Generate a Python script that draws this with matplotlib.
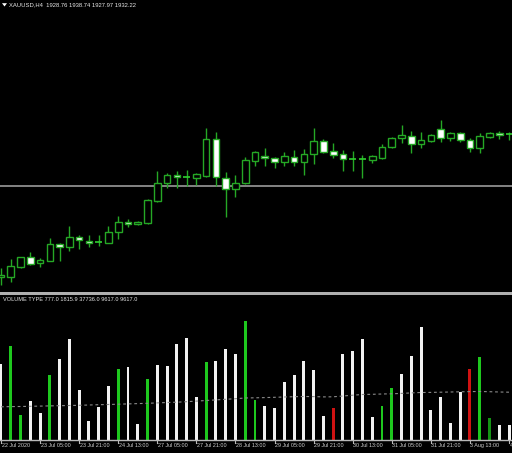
import matplotlib
matplotlib.use("Agg")
import matplotlib.pyplot as plt
from matplotlib.patches import Rectangle, Polygon

# ---------------- data ----------------
opens  = [1855.8, 1855.8, 1864.4, 1872.3, 1867.3, 1869.5, 1883.3, 1881.2, 1889.1, 1886.3,
          1884.9, 1884.6, 1893.3, 1902.0, 1900.1, 1900.9, 1919.9, 1934.5, 1941.5, 1940.0,
          1939.2, 1940.9, 1971.5, 1939.2, 1929.5, 1934.5, 1953.5, 1957.4, 1956.0, 1952.6,
          1956.3, 1952.6, 1958.9, 1969.8, 1961.6, 1958.9, 1955.1, 1954.7, 1954.1, 1956.0,
          1964.7, 1972.3, 1974.2, 1967.3, 1970.0, 1979.9, 1972.8, 1977.0, 1970.9, 1963.9,
          1973.6, 1976.5, 1975.6]
highs  = [1863.3, 1870.6, 1872.8, 1877.0, 1871.5, 1888.8, 1884.6, 1898.6, 1891.1, 1891.1,
          1891.1, 1898.6, 1907.0, 1904.3, 1903.1, 1921.3, 1944.8, 1942.9, 1945.1, 1945.7,
          1943.4, 1981.2, 1977.6, 1944.2, 1941.5, 1956.8, 1961.9, 1963.9, 1956.8, 1961.0,
          1962.5, 1963.3, 1980.7, 1971.5, 1968.1, 1962.5, 1961.6, 1958.3, 1958.3, 1967.3,
          1973.6, 1983.5, 1978.4, 1977.3, 1975.9, 1987.7, 1977.8, 1977.8, 1972.3, 1976.5,
          1977.8, 1978.4, 1977.3]
lows   = [1849.1, 1851.8, 1863.3, 1865.9, 1863.9, 1869.0, 1869.5, 1877.6, 1879.1, 1881.2,
          1882.1, 1884.3, 1887.5, 1897.5, 1899.2, 1900.3, 1919.0, 1930.8, 1930.8, 1932.2,
          1933.1, 1939.5, 1932.5, 1906.4, 1922.7, 1933.9, 1949.3, 1949.0, 1947.6, 1949.3,
          1949.3, 1941.5, 1950.7, 1959.7, 1955.5, 1944.8, 1944.8, 1939.2, 1951.8, 1954.7,
          1964.4, 1968.6, 1959.7, 1963.9, 1969.4, 1969.4, 1970.0, 1969.4, 1961.0, 1960.2,
          1972.8, 1971.5, 1970.9]
closes = [1857.5, 1865.0, 1872.3, 1866.7, 1869.8, 1883.3, 1881.2, 1889.1, 1886.9, 1884.1,
          1885.0, 1893.8, 1902.0, 1900.3, 1902.0, 1920.5, 1935.0, 1941.5, 1939.8, 1940.1,
          1942.1, 1971.5, 1940.0, 1929.5, 1935.0, 1954.1, 1961.0, 1955.5, 1952.6, 1957.4,
          1952.6, 1959.1, 1970.3, 1961.0, 1958.3, 1954.7, 1954.9, 1954.5, 1957.4, 1965.2,
          1972.3, 1974.8, 1967.3, 1970.6, 1975.1, 1972.8, 1977.0, 1970.9, 1963.9, 1974.2,
          1976.7, 1974.8, 1975.7]

volumes = [15200, 18800, 5000, 7800, 5400, 13000, 16200, 20200, 10000, 3800,
           6600, 10800, 14200, 14600, 3200, 12200, 15000, 14800, 19200, 20400,
           8600, 15600, 15800, 18200, 17200, 23800, 8000, 6800, 6400, 11600,
           13000, 15800, 14000, 4800, 6400, 17200, 17800, 20200, 4600, 6800,
           10400, 13200, 16800, 22600, 6000, 8600, 3400, 9600, 14200, 16600,
           4400, 3000, 3000]
vol_type = ["w", "g", "g", "w", "w", "g", "w", "w", "w", "w",
            "w", "w", "g", "w", "w", "g", "w", "w", "w", "w",
            "w", "g", "w", "w", "w", "g", "g", "w", "w", "w",
            "w", "w", "w", "w", "r", "w", "w", "w", "w", "g",
            "g", "w", "w", "w", "w", "w", "w", "w", "r", "g",
            "d", "w", "w"]
vol_ma = [6540, 6580, 6600, 6640, 6680, 6720, 6760, 6800, 6840, 6900,
          6960, 7000, 7060, 7120, 7180, 7240, 7320, 7400, 7460, 7560,
          7680, 7800, 7920, 8040, 8160, 8300, 8340, 8380, 8440, 8500,
          8560, 8600, 8580, 8520, 8540, 8700, 8860, 9000, 9040, 9100,
          9140, 9220, 9320, 9400, 9420, 9460, 9500, 9540, 9580, 9600,
          9560, 9500, 9460]

time_labels = ["22 Jul 2020", "23 Jul 05:00", "23 Jul 21:00", "24 Jul 13:00",
               "27 Jul 05:00", "27 Jul 21:00", "28 Jul 13:00", "29 Jul 05:00",
               "29 Jul 21:00", "30 Jul 13:00", "31 Jul 05:00", "31 Jul 21:00",
               "3 Aug 13:00", "4 Aug 05:00"]
label_step = 4

price_line = 1932.22
header_main = "XAUUSD,H4  1928.76 1938.74 1927.97 1932.22"
header_vol = "VOLUME TYPE 777.0 1815.9 37736.0 9617.0 9617.0"

# ---------------- figure ----------------
W, H = 512, 453
fig = plt.figure(figsize=(W / 100, H / 100), dpi=100, facecolor="black")

def fy(py):  # pixel y (from top) -> figure fraction
    return 1 - py / H

XL = (-1 / 9.77, 511 / 9.77)
CAN = "#25a825"
BRIGHT = "#2fd02f"

ax = fig.add_axes([0, fy(292), 1, 292 / H], facecolor="black")
ax.set_xlim(*XL)
ax.set_ylim(2088.46 - 0.84 * 292, 2088.46)
ax.set_axis_off()

bw = 0.68
for i, (o, h, l, c) in enumerate(zip(opens, highs, lows, closes)):
    ax.vlines(i, l, h, color=CAN, lw=1.0, zorder=2)
    lo, hi = min(o, c), max(o, c)
    if hi - lo < 0.6:
        ax.hlines((o + c) / 2, i - bw / 2, i + bw / 2, color=BRIGHT, lw=1.2, zorder=3)
    else:
        fc = "black" if c > o else "white"
        ax.add_patch(Rectangle((i - bw / 2, lo), bw, hi - lo, facecolor=fc,
                               edgecolor=CAN, lw=1.0, zorder=3))

ax.axhline(price_line, color="#9a9a9a", lw=1.2, zorder=1)

# separator
fig.patches.append(Rectangle((0, fy(295.3)), 1, 3.0 / H, transform=fig.transFigure,
                             facecolor="#b0b0b0", edgecolor="none"))

# volume panel
axv = fig.add_axes([0, fy(439.5), 1, 144.2 / H], facecolor="black")
axv.set_xlim(*XL)
axv.set_ylim(0, 28840)
axv.set_axis_off()
cmap = {"w": "#f2f2f2", "g": "#1ec81e", "r": "#d01212", "d": "#149414"}
axv.bar(range(len(volumes)), volumes, width=0.3, color=[cmap[t] for t in vol_type],
        linewidth=0, zorder=2)
axv.plot(range(len(vol_ma)), vol_ma, color="#8a8a8a", lw=0.8, dashes=(2.5, 2.5), zorder=3)

# time axis
fig.lines.append(plt.Line2D([0, 1], [fy(439.7), fy(439.7)], transform=fig.transFigure,
                            color="#b8b8b8", lw=1.0))
for k, lab in enumerate(time_labels):
    idx = k * label_step
    px = 1 + 9.77 * idx
    fig.lines.append(plt.Line2D([px / W, px / W], [fy(440), fy(443)],
                                transform=fig.transFigure, color="#b8b8b8", lw=0.8))
    fig.text((px + 0.5) / W, fy(445.3), lab, color="#d0d0d0", fontsize=3.9,
             family="Liberation Sans", ha="left", va="center")

# headers
fig.patches.append(Polygon([[2 / W, fy(3.2)], [7 / W, fy(3.2)], [4.5 / W, fy(6.5)]],
                           closed=True, transform=fig.transFigure,
                           facecolor="white", edgecolor="none"))
fig.text(9 / W, fy(5.2), header_main, color="#e8e8e8", fontsize=4.2,
         family="Liberation Sans", ha="left", va="center")
fig.text(3 / W, fy(299.7), header_vol, color="#e8e8e8", fontsize=4.1,
         family="Liberation Sans", ha="left", va="center")

fig.savefig("out.png", dpi=100, facecolor="black")
